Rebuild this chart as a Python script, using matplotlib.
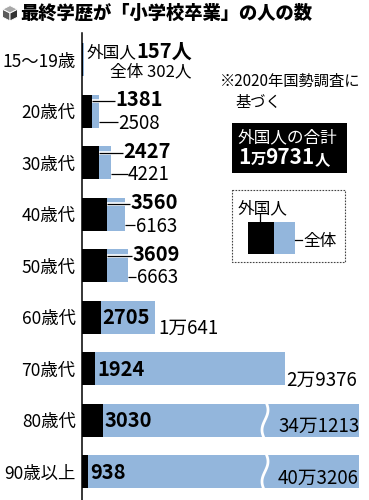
import matplotlib
matplotlib.use('Agg')
import matplotlib.pyplot as plt
from matplotlib.patches import Polygon, Rectangle
import matplotlib.patheffects as pe
import numpy as np

plt.rcParams['font.family'] = ['Noto Sans CJK JP', 'DejaVu Sans']

# ---------------- data ----------------
categories = ['15～19歳', '20歳代', '30歳代', '40歳代', '50歳代',
              '60歳代', '70歳代', '80歳代', '90歳以上']
foreign = [157, 1381, 2427, 3560, 3609, 2705, 1924, 3030, 938]
total = [302, 2508, 4221, 6163, 6663, 10641, 29376, 341213, 403206]
title = '最終学歴が「小学校卒業」の人の数'
note1 = '※2020年国勢調査に'
note2 = '基づく'
legend_foreign = '外国人'
legend_total = '全体'


def man(n):
    return f'{n // 10000}万{n % 10000}' if n >= 10000 else str(n)


# ---------------- layout ----------------
BLUE = '#93b6dc'
W, H = 369, 500
fig = plt.figure(figsize=(W / 100, H / 100), dpi=100)
AX_L, AX_T = 82, 33
ROW = 51.5
XMAX = 41600
ax = fig.add_axes([AX_L / W, 0, (W - AX_L) / W, (H - AX_T) / H])
ax.set_xlim(0, XMAX)
ax.set_ylim(-0.515 + (H - AX_T) / ROW, -0.515)
DX = XMAX / (W - AX_L)   # data units per pixel (x)
DY = 1 / ROW             # data units per pixel (y)
CAP = (359 - AX_L) * DX  # drawn extent of broken bars
BREAK = (265 - AX_L) * DX

y = np.arange(len(categories))
shown = np.minimum(total, CAP)
ax.barh(y, shown, height=0.64, color=BLUE, lw=0, zorder=2)
ax.barh(y, foreign, height=0.64, color='black', lw=0, zorder=3)

for s in ['top', 'right', 'bottom']:
    ax.spines[s].set_visible(False)
ax.spines['left'].set_linewidth(1.1)
ax.spines['left'].set_zorder(5)
ax.set_xticks([])
ax.set_yticks(y, categories)
ax.tick_params(axis='y', length=0, pad=4.5, labelsize=12.5)

# break marks
for i in range(len(total)):
    if total[i] > CAP:
        t = np.linspace(-0.39, 0.39, 60)
        xs = BREAK + 3 * DX * np.sin(2 * np.pi * (t + 0.39) / 0.78)
        ax.plot(xs, i + t, color='white', lw=2.0, zorder=4, solid_capstyle='butt')

PT = 100 / 72


def ann(text, xv, yv, dx_px, cy_px, size, weight='normal', color='black', z=6):
    """place text: left at dx_px right of data x, visual centre cy_px below data y"""
    off = -(cy_px + 0.37 * size * PT)
    ax.annotate(text, xy=(xv, yv), xytext=(dx_px, off), textcoords='offset pixels',
                ha='left', va='baseline', fontsize=size, fontweight=weight,
                color=color, zorder=z, annotation_clip=False)


NB, NR = 14.5, 13.5
# rows 20s-50s: labels outside with leaders
bold_dx = [16, 12, 6, 5]
norm_dx = [19, 17, 11, 9]
halo = [pe.Stroke(linewidth=2.6, foreground='white'), pe.Normal()]
for k, i in enumerate(range(1, 5)):
    bx = total[i] + bold_dx[k] * DX
    nx = total[i] + norm_dx[k] * DX
    ax.plot([foreign[i], bx - 0.5 * DX], [i - 10 * DY] * 2, color='black', lw=0.9,
            zorder=5, path_effects=halo, solid_capstyle='butt')
    ax.plot([total[i], nx - 0.5 * DX], [i + 11 * DY] * 2, color='black', lw=0.9,
            zorder=5, solid_capstyle='butt')
    ann(str(foreign[i]), total[i], i, bold_dx[k], -12, NB, 'bold')
    ann(man(total[i]), total[i], i, norm_dx[k], 11, NR)

# rows 60s-90s: foreign value inside, total after bar / after break
for i in range(5, 9):
    ann(str(foreign[i]), foreign[i], i, 2, 0, NB, 'bold')
    if total[i] > CAP:
        ann(man(total[i]), BREAK, i, 13, 5, NR)
    else:
        ann(man(total[i]), total[i], i, 3 if i == 5 else 2, 10, NR)

# ---------------- overlay in pixel coords ----------------
ov = fig.add_axes([0, 0, 1, 1], zorder=10)
ov.set_xlim(0, W)
ov.set_ylim(H, 0)
ov.axis('off')
renderer = fig.canvas.get_renderer()


def rich(x, cy, pieces, ha='left', color='black'):
    texts, widths = [], []
    maxsize = max(p[1] for p in pieces)
    base = cy + 0.37 * maxsize * PT
    for s, size, weight in pieces:
        tt = ov.text(0, base, s, fontsize=size, fontweight=weight, color=color,
                     ha='left', va='baseline')
        widths.append(tt.get_window_extent(renderer).width)
        texts.append(tt)
    x0 = x - sum(widths) if ha == 'right' else x
    for tt, w in zip(texts, widths):
        tt.set_x(x0)
        x0 += w
    return texts


# title with cube icon
ov.add_patch(Polygon([[10, 5.5], [17.5, 9.3], [10, 13.1], [2.5, 9.3]], closed=True,
                     facecolor='#a8a8a8', edgecolor='white', lw=0.7))
ov.add_patch(Polygon([[2.5, 9.3], [10, 13.1], [10, 21], [2.5, 17.2]], closed=True,
                     facecolor='#5a5a5a', edgecolor='white', lw=0.7))
ov.add_patch(Polygon([[10, 13.1], [17.5, 9.3], [17.5, 17.2], [10, 21]], closed=True,
                     facecolor='#333333', edgecolor='white', lw=0.7))
# fit the title to the reference span (x 20 -> 312)
probe = ov.text(0, 0, title, fontsize=13, fontweight='heavy')
tw = probe.get_window_extent(renderer).width
probe.remove()
tsize = 13 * 292 / tw
rich(20, 12.5, [(title, tsize, 'heavy')])

# 15-19 row labels
rich(192, 50, [('外国人', 12, 'normal'), (f'{foreign[0]}人', 14.5, 'bold')], ha='right')
rich(192, 70, [(f'全体 {total[0]}人', 12, 'normal')], ha='right')

# note
rich(220, 80, [(note1, 11, 'normal')])
rich(235, 101, [(note2, 11, 'normal')])

# black total box
ov.add_patch(Rectangle((232, 123), 115, 50, facecolor='black', edgecolor='none'))
rich(238, 136, [('外国人の合計', 12, 'normal')], color='white')
tot = man(sum(foreign))
man_hi, man_lo = tot.split('万')
rich(238, 156, [(man_hi, 15, 'bold'), ('万', 11, 'bold'), (man_lo, 15, 'bold'),
                ('人', 11, 'bold')], color='white')

# legend box
ov.add_patch(Rectangle((231.5, 190), 113.5, 72, facecolor='none', edgecolor='#444444',
                       lw=0.8, linestyle=(0, (1.5, 1.2))))
ov.add_patch(Rectangle((248, 222), 25.5, 32, facecolor='black', edgecolor='none'))
ov.add_patch(Rectangle((273.5, 222), 21, 32, facecolor=BLUE, edgecolor='none'))
ov.plot([260, 260], [214, 222], color='black', lw=0.9)
ov.plot([294.5, 302], [240, 240], color='black', lw=0.9)
rich(238, 207, [(legend_foreign, 12, 'normal')])
rich(303, 240, [(legend_total, 12, 'normal')])

fig.savefig('out.png', dpi=100)
